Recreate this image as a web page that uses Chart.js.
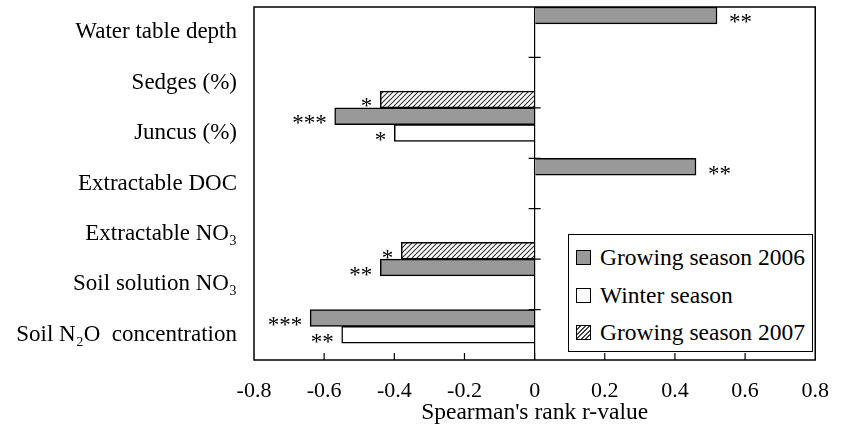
<!DOCTYPE html>
<html>
<head>
<meta charset="utf-8">
<title>Spearman correlations</title>
<script src="https://cdn.jsdelivr.net/npm/chart.js@4.4.1/dist/chart.umd.min.js"></script>
<style>
  html, body { margin: 0; padding: 0; background: #fff; }
  #wrap { position: relative; width: 847px; height: 432px; }
  #legend {
    position: absolute; left: 568px; top: 234px; width: 243px; height: 112px;
    border: 1px solid #000; background: #fff; padding-top: 4px; box-sizing: content-box;
    font-family: 'Liberation Serif', 'Times New Roman', serif; font-size: 23.5px; color: #000;
    white-space: nowrap;
  }
  #legend .row { display: flex; align-items: center; height: 37.5px; }
  #legend .sw { width: 13px; height: 13px; border: 1.5px solid #000; margin-left: 7px; margin-right: 9px; flex: none; }
</style>
</head>
<body>
<div id="wrap">
  <canvas id="chart" width="847" height="432"></canvas>
  <div id="legend">
    <div class="row"><span class="sw" style="background:#999"></span>Growing season 2006</div>
    <div class="row"><span class="sw" style="background:#fff"></span>Winter season</div>
    <div class="row"><span class="sw" style="background:repeating-linear-gradient(135deg,#fff 0 2px,#444 2px 3.2px)"></span>Growing season 2007</div>
  </div>
</div>
<script>
const categories = ['Water table depth', 'Sedges (%)', 'Juncus (%)', 'Extractable DOC',
  'Extractable NO\u2083', 'Soil solution NO\u2083', 'Soil N\u2082O  concentration'];

// r-values, null where the variable was not significant for that period
const growing2006 = [0.52, null, -0.57, 0.46, null, -0.44, -0.64];
const winter = [null, null, -0.40, null, null, null, -0.55];
const growing2007 = [null, -0.44, null, null, -0.38, null, null];

// significance marks drawn next to each bar
const stars2006 = ['**', '', '***', '**', '', '**', '***'];
const starsWinter = ['', '', '*', '', '', '', '**'];
const stars2007 = ['', '*', '', '', '*', '', ''];

const xMin = -0.8, xMax = 0.8, xStep = 0.2;

const serif = "'Liberation Serif', 'Times New Roman', serif";

function hatch() {
  const c = document.createElement('canvas');
  c.width = 5; c.height = 5;
  const g = c.getContext('2d');
  g.fillStyle = '#fff';
  g.fillRect(0, 0, 5, 5);
  g.strokeStyle = '#333';
  g.lineWidth = 1.1;
  g.beginPath();
  g.moveTo(-1, 6); g.lineTo(6, -1);
  g.moveTo(-1, 1); g.lineTo(1, -1);
  g.moveTo(4, 6); g.lineTo(6, 4);
  g.stroke();
  return g.createPattern(c, 'repeat');
}

const starLabels = {
  id: 'starLabels',
  afterDatasetsDraw(chart) {
    const sets = [stars2006, starsWinter, stars2007];
    const ctx = chart.ctx;
    ctx.save();
    ctx.font = '23px ' + serif;
    ctx.fillStyle = '#000';
    ctx.textBaseline = 'alphabetic';
    chart.data.datasets.forEach((ds, di) => {
      chart.getDatasetMeta(di).data.forEach((bar, i) => {
        const v = ds.data[i];
        const s = sets[di][i];
        if (v == null || !s) return;
        if (v < 0) {
          ctx.textAlign = 'right';
          ctx.fillText(s, bar.x - 8, bar.y + 14);
        } else {
          ctx.textAlign = 'left';
          ctx.fillText(s, bar.x + 12, bar.y + 14);
        }
      });
    });
    ctx.restore();
  }
};

// frame plus the short tick marks inside the plot
const frame = {
  id: 'frame',
  afterDraw(chart) {
    const { ctx, chartArea: a, scales: { x, y } } = chart;
    ctx.save();
    ctx.strokeStyle = '#000';
    ctx.lineWidth = 1.5;
    ctx.strokeRect(a.left, a.top, a.right - a.left, a.bottom - a.top);
    ctx.lineWidth = 1.2;
    ctx.beginPath();
    const x0 = x.getPixelForValue(0);
    for (let i = 0; i < categories.length - 1; i++) {
      const py = (y.getPixelForValue(i) + y.getPixelForValue(i + 1)) / 2;
      ctx.moveTo(x0 - 6, py);
      ctx.lineTo(x0 + 6, py);
    }
    for (let v = xMin + xStep; v < xMax - 1e-9; v += xStep) {
      const px = x.getPixelForValue(v);
      ctx.moveTo(px, a.bottom);
      ctx.lineTo(px, a.bottom - 7);
    }
    ctx.stroke();
    ctx.restore();
  }
};

new Chart(document.getElementById('chart').getContext('2d'), {
  type: 'bar',
  data: {
    labels: categories,
    datasets: [{
      label: 'Growing season 2006',
      data: growing2006,
      backgroundColor: '#999999',
      borderColor: '#000',
      borderWidth: 1.5
    }, {
      label: 'Winter season',
      data: winter,
      backgroundColor: '#ffffff',
      borderColor: '#000',
      borderWidth: 1.5
    }, {
      label: 'Growing season 2007',
      data: growing2007,
      backgroundColor: hatch(),
      borderColor: '#000',
      borderWidth: 1.5
    }]
  },
  options: {
    indexAxis: 'y',
    responsive: false,
    animation: false,
    categoryPercentage: 1,
    barPercentage: 1,
    layout: { padding: { top: 7, right: 16, left: 0, bottom: 0 } },
    scales: {
      x: {
        min: xMin, max: xMax,
        afterFit: (s) => { s.height = 72; },
        grid: {
          drawTicks: false,
          color: (c) => (c.tick && Math.abs(c.tick.value) < 1e-9 ? '#000' : 'rgba(0,0,0,0)'),
          lineWidth: 1.2
        },
        border: { display: false },
        ticks: {
          stepSize: xStep,
          padding: 18,
          color: '#000',
          font: { family: serif, size: 22 },
          callback: (v) => (Math.abs(v) < 1e-9 ? '0' : v.toFixed(1))
        },
        title: {
          display: true,
          text: "Spearman's rank r-value",
          color: '#000',
          font: { family: serif, size: 23.5 },
          padding: { top: 0, bottom: 5 }
        }
      },
      y: {
        afterFit: (s) => { s.width = 254; s.paddingTop = 0; s.paddingBottom = 0; },
        grid: { display: false, drawTicks: false },
        border: { display: false },
        ticks: {
          padding: 17,
          color: '#000',
          font: { family: serif, size: 23 }
        }
      }
    },
    plugins: {
      legend: { display: false },
      tooltip: { enabled: false }
    }
  },
  plugins: [starLabels, frame]
});
</script>
</body>
</html>
